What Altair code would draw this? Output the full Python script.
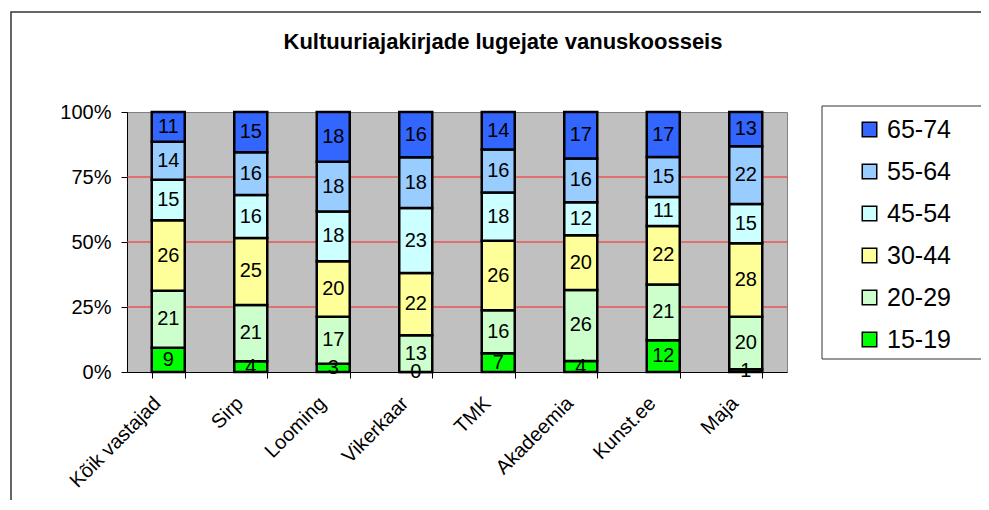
import altair as alt
import pandas as pd

CATEGORIES = ["Kõik vastajad", "Sirp", "Looming", "Vikerkaar", "TMK", "Akadeemia", "Kunst.ee", "Maja"]
AGE_GROUPS = ["15-19", "20-29", "30-44", "45-54", "55-64", "65-74"]
V_15_19 = [9, 4, 3, 0, 7, 4, 12, 1]
V_20_29 = [21, 21, 17, 13, 16, 26, 21, 20]
V_30_44 = [26, 25, 20, 22, 26, 20, 22, 28]
V_45_54 = [15, 16, 18, 23, 18, 12, 11, 15]
V_55_64 = [14, 16, 18, 18, 16, 16, 15, 22]
V_65_74 = [11, 15, 18, 16, 14, 17, 17, 13]
SERIES = [V_15_19, V_20_29, V_30_44, V_45_54, V_55_64, V_65_74]
COLORS = ["#00FF00", "#CCFFCC", "#FFFF99", "#CCFFFF", "#99CCFF", "#3366FF"]
Y_TICKS = [0, 0.25, 0.5, 0.75, 1]
GRID = [0.25, 0.5, 0.75]
TITLE = "Kultuuriajakirjade lugejate vanuskoosseis"
FONT = "Liberation Sans"

rows = []
for gi, (g, vals) in enumerate(zip(AGE_GROUPS, SERIES)):
    for c, v in zip(CATEGORIES, vals):
        rows.append({"cat": c, "age": g, "order": gi, "value": v})
df = pd.DataFrame(rows)

base = (
    alt.Chart(df)
    .transform_joinaggregate(total="sum(value)", groupby=["cat"])
    .transform_calculate(pct="datum.value / datum.total")
    .transform_window(cum="sum(pct)", sort=[alt.SortField("order")], groupby=["cat"], frame=[None, 0])
    .transform_calculate(y0="datum.cum - datum.pct", mid="datum.cum - datum.pct / 2")
)

x_axis = alt.Axis(
    title=None, labelAngle=-45, labelAlign="right", labelBaseline="middle",
    labelOffset=-11, labelPadding=22, tickSize=6, tickBand="extent",
    labelFontSize=20, labelFont=FONT, labelColor="black",
    domainColor="black", tickColor="black", grid=False,
)
y_axis = alt.Axis(
    title=None, values=Y_TICKS, format=".0%", tickSize=6, labelPadding=10,
    labelFontSize=20, labelFont=FONT, labelColor="black",
    domainColor="black", tickColor="black", grid=False,
)
x_scale = alt.Scale(domain=CATEGORIES, paddingInner=0.6, paddingOuter=0.3)
y_scale = alt.Scale(domain=[0, 1], nice=False)

xenc = alt.X("cat:N", sort=CATEGORIES, scale=x_scale, axis=x_axis)

grid = alt.Chart(pd.DataFrame({"g": GRID})).mark_rule(color="#FF2020", strokeWidth=1).encode(
    y=alt.Y("g:Q", scale=y_scale, axis=y_axis)
)

bars = base.mark_bar(stroke="black", strokeWidth=2.5).encode(
    x=xenc,
    y=alt.Y("y0:Q", scale=y_scale, axis=y_axis),
    y2="cum:Q",
    color=alt.Color(
        "age:N",
        scale=alt.Scale(domain=AGE_GROUPS, range=COLORS),
        legend=alt.Legend(
            title=None, orient="none", legendX=730, legendY=5,
            values=AGE_GROUPS[::-1], symbolType="square", symbolSize=210,
            symbolStrokeColor="black", symbolStrokeWidth=1.5,
            labelFontSize=25, labelFont=FONT, labelColor="black",
            labelOffset=5, rowPadding=16, padding=0,
        ),
    ),
)

labels = base.mark_text(fontSize=20, font=FONT, color="black", baseline="middle", align="center").encode(
    x=xenc,
    y=alt.Y("mid:Q", scale=y_scale, axis=y_axis),
    text="value:Q",
)

one = pd.DataFrame({"a": [0]})
outer = alt.Chart(one).mark_rect(fill="transparent", stroke="#333333", strokeWidth=1.5).encode(
    x=alt.value(-116), x2=alt.value(1000), y=alt.value(-100), y2=alt.value(700)
)
legend_box = alt.Chart(one).mark_rect(fill="white", stroke="#333333", strokeWidth=1).encode(
    x=alt.value(695), x2=alt.value(1000), y=alt.value(-6), y2=alt.value(247)
)

chart = (
    alt.layer(outer, legend_box, grid, bars, labels)
    .properties(
        width=660, height=260,
        autosize=alt.AutoSizeParams(type="none"),
        padding={"left": 119, "top": 104, "right": 194, "bottom": 128},
        title=alt.TitleParams(
            TITLE, fontSize=22, fontWeight="bold", font=FONT, color="black",
            anchor="middle", frame="group", offset=-35, dx=46, dy=25, baseline="alphabetic",
        ),
        background="white",
    )
    .configure_view(fill="#C0C0C0", stroke="#808080", strokeWidth=1)
)

chart.save("out.html", embed_options={"renderer": "svg", "actions": False})
